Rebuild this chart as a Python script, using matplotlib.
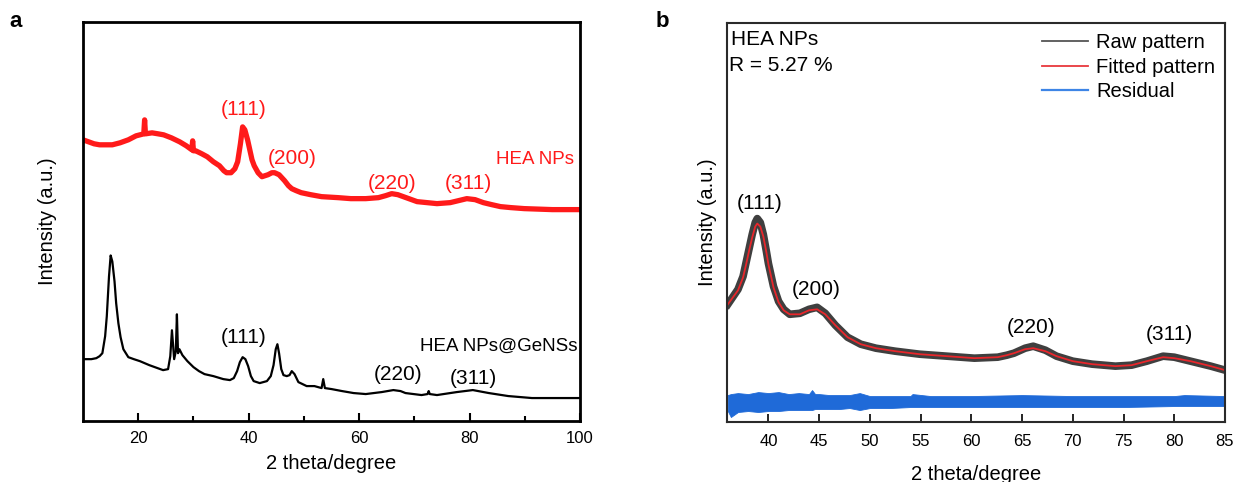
import matplotlib
matplotlib.use("Agg")
import matplotlib.pyplot as plt
from matplotlib.lines import Line2D

plt.rcParams['font.family'] = ['Liberation Sans', 'DejaVu Sans']

# panel a: HEA NPs (red) and HEA NPs@GeNSs (black), intensity in a.u.
hea_x = [10, 11, 12, 13, 14, 15.3, 16.7, 18.2, 19.6, 21.0, 21.15, 21.3, 22.5, 23.6, 24.6,
         26.0, 27.5, 28.7, 29.7, 29.85, 30.0, 30.4, 31.5, 32.5, 33.6, 34.7, 35.5, 36.0, 36.8,
         37.5, 38.0, 38.5, 38.9, 39.3, 39.8, 40.2, 40.6, 41.0, 41.7, 42.4, 43.5, 44.2, 44.7,
         45.5, 46.0, 46.5, 47.2, 47.8, 48.6, 49.5, 51.2, 53.2, 56.2, 58.5, 61.2, 63.5, 64.8,
         65.9, 67.0, 68.5, 70.5, 72.3, 74.1, 76.5, 78.0, 79.5, 81.0, 82.5, 84.0, 85.6, 87.5,
         89.9, 95, 100]
hea_y = [282, 280, 278, 277, 277, 277, 279, 282, 286, 288, 302, 288, 289, 288, 287,
         284, 280, 276, 272, 281, 271, 271, 268, 265, 260, 256, 251, 249, 249,
         253, 260, 278, 295, 292, 282, 272, 262, 256, 249, 245, 247, 249, 249,
         247, 244, 241, 236, 233, 231, 229, 227, 225, 224, 223, 223, 224, 226,
         228, 227, 224, 220, 219, 218, 219, 221, 223, 222, 219, 217, 215, 214,
         213, 212, 212]

gens_x = [10, 11.5, 12.4, 13.0, 13.5, 14.0, 14.3, 14.7, 15.0, 15.3, 15.7, 16.0, 16.4, 16.8,
          17.3, 18.2, 19.2, 20.3, 22.0, 23.5, 24.5, 25.4, 25.8, 26.1, 26.5, 26.8, 27.0, 27.2,
          27.45, 28.0, 28.9, 30.0, 31.0, 32.0, 33.6, 35.4, 36.6, 37.3, 37.9, 38.4, 38.9, 39.4,
          39.9, 40.4, 40.9, 42.0, 43.3, 44.0, 44.5, 44.9, 45.2, 45.5, 45.9, 46.3, 46.9, 47.4,
          47.8, 48.3, 49.0, 50.5, 51.9, 53.2, 53.5, 53.8, 55.0, 56.9, 59.0, 61.2, 64.1, 66.2,
          67.5, 68.4, 71.3, 72.4, 72.6, 72.8, 74.1, 77.7, 80.6, 83.5, 87.0, 91.3, 95.0, 100]
gens_y = [62, 62, 63, 65, 68, 85, 105, 145, 166, 160, 140, 118, 98, 84,
          72, 64, 62, 60, 56, 53, 51, 52, 65, 91, 62, 70, 107, 68,
          72, 66, 60, 54, 50, 47, 45, 42, 41, 43, 50, 59, 64, 62,
          55, 45, 40, 38, 40, 45, 56, 72, 77, 68, 52, 46, 45, 46,
          50, 47, 39, 35, 35, 33, 42, 33, 32, 30, 28, 27, 29, 31,
          30, 28, 26, 27, 30, 27, 26, 29, 31, 28, 25, 23, 23, 23]

a_ticks = [20, 40, 60, 80, 100]
a_minor = [30, 50, 70, 90]
hea_peaks = [("(111)", 39.0, 312), ("(200)", 47.9, 263), ("(220)", 65.9, 238), ("(311)", 79.7, 238)]
gens_peaks = [("(111)", 39.0, 84), ("(220)", 67.0, 47), ("(311)", 80.7, 43)]

# panel b: fit of HEA NPs pattern
fit_x = [36.0, 37.0, 37.5, 37.8, 38.1, 38.4, 38.7, 38.9, 39.2, 39.5, 39.8, 40.0, 40.5, 41.0,
         41.5, 42.1, 43.1, 44.0, 44.8, 45.6, 46.6, 47.8, 49.1, 50.6, 52.5, 54.9, 57.6, 60.3,
         62.6, 63.5, 64.2, 65.3, 66.1, 67.3, 68.4, 70.0, 71.9, 74.2, 75.8, 77.3, 78.9, 80.0,
         81.6, 83.6, 85.0]
fit_y = [118, 132, 145, 158, 172, 185, 196, 199, 196, 186, 170, 158, 135, 120,
         112, 108, 108, 112, 113, 108, 97, 85, 78, 74, 71, 68, 66, 64,
         65, 67, 69, 73, 74, 71, 66, 61, 58, 56, 57, 61, 65, 64,
         61, 56, 52]
raw_y = [118, 133, 146, 160, 174, 188, 200, 204, 200, 188, 171, 159, 136, 121,
         113, 108, 109, 113, 115, 109, 97, 85, 78, 74, 71, 68, 66, 64,
         65, 67, 69, 74, 76, 72, 66, 61, 58, 56, 57, 61, 66, 65,
         61, 56, 52]

res_x = [36, 36.3, 37, 38, 39, 40, 41, 42, 43, 44, 44.3, 44.6, 45, 46, 47, 48, 49, 50,
         52, 54, 54.2, 56, 60, 65, 70, 75, 80, 81, 85]
res_hi = [27, 28, 29, 28, 30, 29, 30, 28, 29, 28, 32, 28, 28, 27, 27, 27, 29, 26,
          26, 26, 28, 26, 26, 27, 26, 26, 26, 27, 26]
res_lo = [11, 5, 10, 11, 10, 11, 11, 12, 12, 12, 12, 13, 13, 13, 13, 14, 12, 14,
          14, 15, 15, 15, 15, 15, 15, 15, 16, 16, 16]

b_ticks = [40, 45, 50, 55, 60, 65, 70, 75, 80, 85]
b_peaks = [("(111)", 39.1, 219), ("(200)", 44.7, 133), ("(220)", 65.9, 95), ("(311)", 79.5, 88)]

fig = plt.figure(figsize=(12.34, 4.82), dpi=100)

# ---- panel a ----
ax1 = fig.add_axes([0.0673, 0.1266, 0.4027, 0.8274])
ax1.plot(hea_x, hea_y, color='#ff1a1a', lw=3.8, solid_joinstyle='round')
ax1.plot(gens_x, gens_y, color='black', lw=1.6)
for lab, x, y in hea_peaks:
    ax1.text(x, y, lab, color='#ff1a1a', fontsize=15, ha='center', va='center')
for lab, x, y in gens_peaks:
    ax1.text(x, y, lab, color='black', fontsize=15, ha='center', va='center')
ax1.text(99.0, 262, 'HEA NPs', color='#ff1a1a', fontsize=13.5, ha='right', va='center')
ax1.text(99.6, 75, 'HEA NPs@GeNSs', color='black', fontsize=13.5, ha='right', va='center')
ax1.set_xlim(10, 100)
ax1.set_ylim(0, 400)
ax1.set_xticks(a_ticks)
ax1.set_xticks(a_minor, minor=True)
ax1.set_yticks([])
ax1.tick_params(axis='x', which='major', direction='in', length=6, width=1.5, labelsize=12, pad=7)
ax1.tick_params(axis='x', which='minor', direction='in', length=3.5, width=1.5)
for s in ax1.spines.values():
    s.set_linewidth(2)
ax1.set_xlabel('2 theta/degree', fontsize=14.5, labelpad=6)
ax1.set_ylabel('Intensity (a.u.)', fontsize=14.5, labelpad=19)
fig.text(0.008, 0.955, 'a', fontsize=16, fontweight='bold', va='center')

# ---- panel b ----
ax2 = fig.add_axes([0.589, 0.1245, 0.4037, 0.8275])
ax2.plot(fit_x, raw_y, color='#3f3f3f', lw=5.5, solid_joinstyle='round')
ax2.plot(fit_x, fit_y, color='#e8262b', lw=1.3)
ax2.fill_between(res_x, res_lo, res_hi, color='#1f6ad8', lw=0.6, edgecolor='#1f6ad8')
for lab, x, y in b_peaks:
    ax2.text(x, y, lab, color='black', fontsize=15, ha='center', va='center')
ax2.text(0.008, 0.96, 'HEA NPs', transform=ax2.transAxes, fontsize=15, ha='left', va='center')
ax2.text(0.004, 0.895, 'R = 5.27 %', transform=ax2.transAxes, fontsize=15, ha='left', va='center')
handles = [Line2D([], [], color='#555555', lw=1.3),
           Line2D([], [], color='#e8383d', lw=1.3),
           Line2D([], [], color='#3d85e6', lw=1.6)]
ax2.legend(handles, ['Raw pattern', 'Fitted pattern', 'Residual'], loc='upper right',
           frameon=False, fontsize=14.5, handlelength=2.3, handletextpad=0.4,
           labelspacing=0.28, borderaxespad=0.1, bbox_to_anchor=(1.0, 1.0))
ax2.set_xlim(35.9, 85)
ax2.set_ylim(0, 400)
ax2.set_xticks(b_ticks)
ax2.set_yticks([])
ax2.tick_params(axis='x', direction='in', length=6, width=1.2, labelsize=12, pad=9)
for s in ax2.spines.values():
    s.set_linewidth(1.5)
    s.set_color('#2a2a2a')
ax2.set_xlabel('2 theta/degree', fontsize=14.5, labelpad=11)
ax2.set_ylabel('Intensity (a.u.)', fontsize=14.5, labelpad=7)
fig.text(0.531, 0.955, 'b', fontsize=16, fontweight='bold', va='center')

fig.savefig('out.png', dpi=100)
